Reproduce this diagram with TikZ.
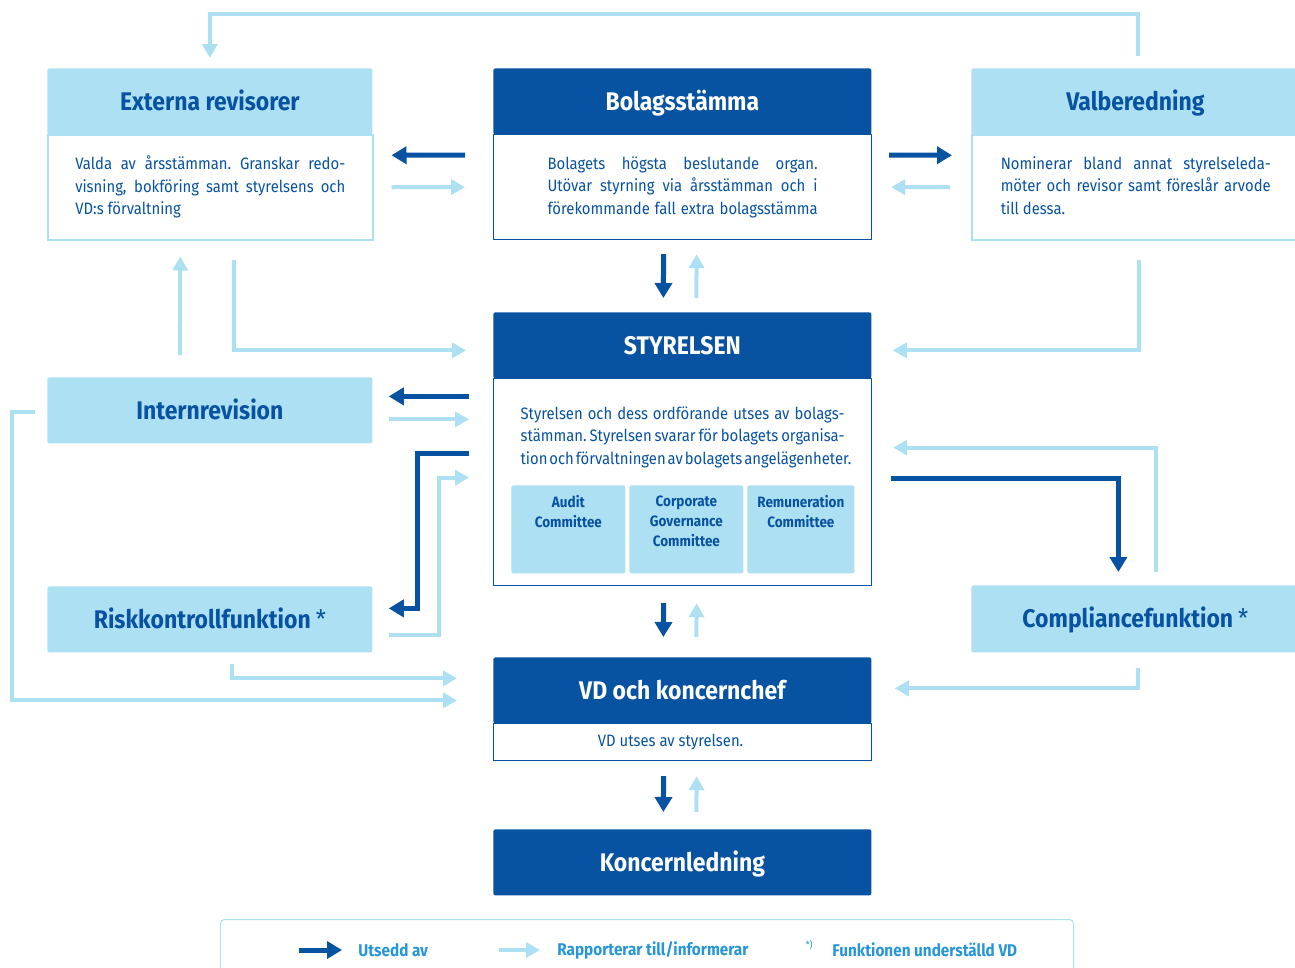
\documentclass[tikz,border=0pt]{standalone}
\usepackage{fontspec}
\setmainfont{Fira Sans}[FakeStretch=0.9]
\usetikzlibrary{calc}
\usetikzlibrary{arrows.meta}
\definecolor{dblue}{RGB}{7,82,161}
\definecolor{lblue}{RGB}{174,224,243}
\definecolor{ltext}{RGB}{38,150,215}
\tikzset{every picture/.style={line width=0.75pt}}
\tikzset{
  head/.style={anchor=north west, inner sep=0pt, minimum height=66pt, text height=22pt, text depth=4pt, rounded corners=2pt, font=\fontsize{25.5}{30}\selectfont\bfseries},
  hdark/.style={head, fill=dblue, text=white},
  hlight/.style={head, fill=lblue, text=dblue},
  body/.style={anchor=north west, inner sep=0pt, fill=white, text=dblue, font=\bodyfont},
  bdark/.style={body, draw=dblue, line width=1.2pt},
  blight/.style={body, draw=lblue, line width=1.5pt},
  comm/.style={anchor=north west, inner xsep=0pt, inner ysep=10pt, fill=lblue, text=dblue, rounded corners=2pt, font=\fontsize{15}{20}\selectfont\bfseries},
  legtext/.style={anchor=west, inner sep=0pt, text=ltext, font=\fontsize{17}{20}\selectfont\bfseries},
  appoint/.style={draw=dblue, line width=5pt, -{Triangle[length=15pt,width=17pt]}},
  report/.style={draw=lblue, line width=4pt, -{Triangle[length=14pt,width=15pt]}},
}
% body font with stretchable word spaces
\newcommand{\bodyfont}{\fontsize{16.5}{22.5}\selectfont\spaceskip=\fontdimen2\font plus 0.8em minus 0.12em\xspaceskip=\spaceskip}
% justified line of given width
\newcommand{\jl}[2]{\makebox[#1][s]{#2}}
\hyphenpenalty=10000

\begin{document}
\begin{tikzpicture}[x=1pt,y=1pt,yscale=-1]
\useasboundingbox (0,0) rectangle (1295,967);

%Shape: Rectangle -- top row
\node[hlight, minimum width=325pt] (ext) at (47,68) {Externa revisorer};
\node[blight, minimum width=325pt, minimum height=105pt] (extb) at (47,134) {\parbox{270pt}{\jl{270pt}{Valda av årsstämman. Granskar redo-}\\\jl{270pt}{visning, bokföring samt styrelsens och}\\VD:s förvaltning}};
\node[hdark, minimum width=378pt] (bol) at (493,68) {Bolagsstämma};
\node[bdark, minimum width=378pt, minimum height=105pt] (bolb) at (493,134) {\parbox{270pt}{\jl{270pt}{Bolagets högsta beslutande organ.}\\\jl{270pt}{Utövar styrning via årsstämman och i}\\\jl{270pt}{förekommande fall extra bolagsstämma}}};
\node[hlight, minimum width=328pt] (valb) at (971,68) {Valberedning};
\node[blight, minimum width=328pt, minimum height=105pt] (valbb) at (971,134) {\parbox{270pt}{\jl{270pt}{Nominerar bland annat styrelseleda-}\\\jl{270pt}{möter och revisor samt föreslår arvode}\\till dessa.\vphantom{g}}};

%Shape: Rectangle -- board
\node[hdark, minimum width=378pt] (styr) at (493,312) {STYRELSEN};
\node[bdark, minimum width=378pt, inner ysep=28pt] (styrb) at (493,378) {\parbox[c][151pt][t]{324pt}{\jl{324pt}{Styrelsen och dess ordförande utses av bolags-}\\\jl{324pt}{stämman. Styrelsen svarar för bolagets organisa-}\\\jl{324pt}{tion och förvaltningen av bolagets angelägenheter.}}};
\node[comm] (aud) at (511,485) {\parbox[c][68pt][t]{114pt}{\centering Audit\\Committee}};
\node[comm] (cgc) at (629,485) {\parbox[c][68pt][t]{114pt}{\centering Corporate\\Governance\\Committee}};
\node[comm] (rem) at (747,485) {\parbox[c][68pt][t]{107pt}{\centering Remuneration\\Committee}};

%Shape: Rectangle -- control functions
\node[hlight, minimum width=325pt] (intrev) at (47,377) {Internrevision};
\node[hlight, minimum width=325pt] (risk) at (47,586) {Riskkontrollfunktion\hspace{5pt}{\mdseries *}};
\node[hlight, minimum width=328pt, minimum height=67pt] (compl) at (971,585) {Compliancefunktion\hspace{5pt}{\mdseries *}};

%Shape: Rectangle -- management
\node[hdark, minimum width=378pt] (vd) at (493,657) {VD och koncernchef};
\node[bdark, minimum width=378pt, minimum height=37pt] (vdb) at (493,723) {VD utses av styrelsen.\hspace*{24pt}};
\node[hdark, minimum width=378pt] (kon) at (493,829) {Koncernledning};

%Straight Lines -- stamma
\draw[report] ($(valb.north)+(3,-12)$) -- ++(0,-42) -| ($(ext.north)+(0,-10)$);
\draw[appoint] ($(bolb.west)+(-28,-32)$) -- ($(extb.east)+(18,-32)$);
\draw[report] ($(extb.east)+(18,0)$) -- ($(bolb.west)+(-28,0)$);
\draw[appoint] ($(bolb.east)+(17,-32)$) -- ($(valbb.west)+(-19,-32)$);
\draw[report] ($(valbb.west)+(-21,0)$) -- ($(bolb.east)+(19,0)$);
\draw[appoint] ($(bolb.south)+(-19,14)$) -- ($(styr.north)+(-19,-14)$);
\draw[report] ($(styr.north)+(14,-14)$) -- ($(bolb.south)+(14,14)$);
\draw[report] ($(intrev.north)+(-30,-22)$) -- ($(extb.south)+(-30,16)$);
\draw[report] ($(extb.south)+(23.5,19)$) |- ($(styr.west)+(-27,5)$);
\draw[report] ($(valbb.south)+(3,19)$) |- ($(styr.east)+(21,5)$);

%Straight Lines -- styrelsen
\draw[appoint] ($(intrev.east -| styrb.west)+(-24,-14)$) -- ($(intrev.east)+(16,-14)$);
\draw[report] ($(intrev.east)+(16,9)$) -- ($(intrev.east -| styrb.west)+(-24,9)$);
\draw[appoint] ($(styrb.west)+(-24,-28.5)$) -- ++(-52,0) |- ($(risk.east)+(16,-11)$);
\draw[report] ($(risk.east)+(16,16)$) -- ++(50,0) |- ($(styrb.west)+(-24,-4.5)$);
\draw[appoint] ($(styrb.east)+(19,-3.5)$) -| ($(compl.north)+(-17,-13)$);
\draw[report] ($(compl.north)+(21,-13)$) |- ($(styrb.east)+(21,-34.5)$);
\draw[appoint] ($(styrb.south)+(-19,17)$) -- ($(vd.north)+(-19,-20)$);
\draw[report] ($(vd.north)+(14,-20)$) -- ($(styrb.south)+(14,17)$);

%Straight Lines -- vd
\draw[report] ($(intrev.west)+(-12,2)$) -- ++(-23,0) |- ($(vd.west)+(-36,10)$);
\draw[report] ($(risk.south)+(22.5,11)$) |- ($(vd.west)+(-36,-12)$);
\draw[report] ($(compl.south)+(3,15)$) |- ($(vd.east)+(23,-2)$);
\draw[appoint] ($(vdb.south)+(-19,15)$) -- ($(kon.north)+(-19,-17)$);
\draw[report] ($(kon.north)+(14,-17)$) -- ($(vdb.south)+(14,15)$);

% Legend
\node[anchor=north west, draw=lblue, line width=1pt, rounded corners=4pt, minimum width=853pt, minimum height=70pt] (legend) at (220,919) {};
\node[legtext] (utsedd) at ($(legend.north west)+(138,31)$) {Utsedd av};
\draw[appoint] ($(utsedd.west)+(-59,0)$) -- ($(utsedd.west)+(-16,0)$);
\node[legtext] (rapp) at ($(legend.north west)+(337,31)$) {Rapporterar till/informerar};
\draw[report] ($(rapp.west)+(-58,0)$) -- ($(rapp.west)+(-17,0)$);
\node[legtext] (funk) at ($(legend.north west)+(612,31)$) {Funktionen underställd VD};
\node[anchor=east, inner sep=0pt, text=ltext, font=\fontsize{10}{11}\selectfont] (star) at ($(funk.west)+(-19,-5)$) {*)};

\end{tikzpicture}
\end{document}
